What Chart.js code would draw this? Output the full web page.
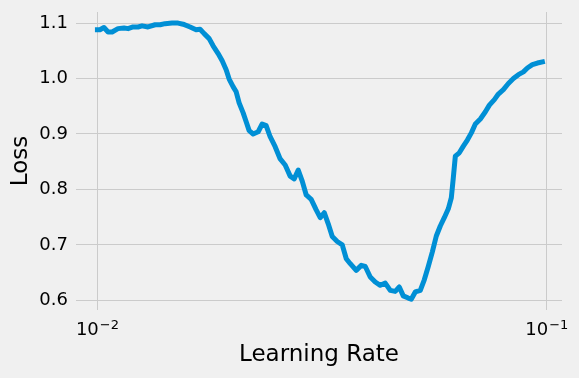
<!DOCTYPE html>
<html>
<head>
<meta charset="utf-8">
<script src="https://cdn.jsdelivr.net/npm/chart.js@4.4.1/dist/chart.umd.min.js"></script>
<style>
  body { margin: 0; background: #f0f0f0; }
  #wrap { width: 579px; height: 378px; }
</style>
</head>
<body>
<div id="wrap"><canvas id="grafico" width="579" height="378"></canvas></div>
<script>
// learning rate (x) and smoothed loss (y)
const learningRates = [
  0.0100, 0.01013, 0.01034, 0.01056, 0.01078, 0.01111, 0.01146, 0.01170, 0.01200, 0.01231,
  0.01257, 0.01296, 0.01344, 0.01379, 0.01414, 0.01466, 0.01512, 0.01551, 0.01608, 0.01658,
  0.01692, 0.01728, 0.01773, 0.01809, 0.01856, 0.01895, 0.01934, 0.01964, 0.02005, 0.02036,
  0.02067, 0.02110, 0.02143, 0.02176, 0.02221, 0.02279, 0.02326, 0.02374, 0.02423, 0.02486,
  0.02551, 0.02617, 0.02685, 0.02741, 0.02798, 0.02856, 0.02915, 0.02990, 0.03068, 0.03132,
  0.03197, 0.03263, 0.03331, 0.03417, 0.03506, 0.03579, 0.03653, 0.03766, 0.03865, 0.03945,
  0.04047, 0.04152, 0.04260, 0.04370, 0.04484, 0.04600, 0.04696, 0.04793, 0.04918, 0.04993,
  0.05097, 0.05230, 0.05338, 0.05448, 0.05561, 0.05677, 0.05794, 0.05914, 0.06037, 0.06131,
  0.06194, 0.06258, 0.06387, 0.06521, 0.06656, 0.06794, 0.06934, 0.07114, 0.07300, 0.07451,
  0.07644, 0.07802, 0.08005, 0.08213, 0.08426, 0.08646, 0.08870, 0.09053, 0.09287, 0.09530,
  0.09777
];
const losses = [
  1.088, 1.088, 1.092, 1.084, 1.084, 1.090, 1.091, 1.090, 1.093, 1.093,
  1.095, 1.093, 1.097, 1.097, 1.099, 1.100, 1.100, 1.098, 1.093, 1.088,
  1.089, 1.081, 1.072, 1.059, 1.045, 1.032, 1.016, 0.999, 0.985, 0.976,
  0.956, 0.938, 0.922, 0.906, 0.900, 0.904, 0.918, 0.915, 0.895, 0.877,
  0.855, 0.844, 0.824, 0.819, 0.835, 0.815, 0.790, 0.782, 0.763, 0.749,
  0.758, 0.738, 0.715, 0.706, 0.700, 0.675, 0.666, 0.654, 0.663, 0.661,
  0.642, 0.633, 0.627, 0.631, 0.618, 0.616, 0.624, 0.608, 0.604, 0.602,
  0.615, 0.618, 0.637, 0.661, 0.687, 0.716, 0.734, 0.749, 0.765, 0.785,
  0.821, 0.860, 0.866, 0.878, 0.889, 0.902, 0.918, 0.927, 0.940, 0.952,
  0.962, 0.972, 0.980, 0.991, 1.000, 1.007, 1.012, 1.019, 1.025, 1.028,
  1.030
];
const xTicks = [0.01, 0.1];
const xTickLabels = [['10', '\u22122'], ['10', '\u22121']];
const yTicks = [0.6, 0.7, 0.8, 0.9, 1.0, 1.1];

const FONTE = '"DejaVu Sans", sans-serif';
const COR_GRADE = '#cbcbcb';

const pontos = learningRates.map((lr, i) => ({ x: lr, y: losses[i] }));

// fundo cinza estilo fivethirtyeight
const fundo = {
  id: 'fundo',
  beforeDraw(chart) {
    const ctx = chart.ctx;
    ctx.save();
    ctx.fillStyle = '#f0f0f0';
    ctx.fillRect(0, 0, chart.width, chart.height);
    ctx.restore();
  }
};

// rotulos 10^-2 / 10^-1 com expoente
const rotulosLog = {
  id: 'rotulosLog',
  afterDraw(chart) {
    const ctx = chart.ctx;
    const escala = chart.scales.x;
    ctx.save();
    ctx.fillStyle = '#000';
    ctx.textBaseline = 'alphabetic';
    ctx.textAlign = 'left';
    xTicks.forEach((v, i) => {
      const px = escala.getPixelForValue(v);
      const [base, exp] = xTickLabels[i];
      ctx.font = '18px ' + FONTE;
      const w1 = ctx.measureText(base).width;
      ctx.font = '13px ' + FONTE;
      const w2 = ctx.measureText(exp).width;
      const x0 = px - (w1 + w2 + 1) / 2;
      ctx.font = '18px ' + FONTE;
      ctx.fillText(base, x0, 335);
      ctx.font = '13px ' + FONTE;
      ctx.fillText(exp, x0 + w1 + 1, 329);
    });
    ctx.restore();
  }
};

new Chart(document.getElementById('grafico'), {
  type: 'line',
  data: {
    datasets: [{
      data: pontos,
      borderColor: '#008fd5',
      borderWidth: 5,
      pointRadius: 0,
      borderJoinStyle: 'round',
      borderCapStyle: 'square',
      tension: 0
    }]
  },
  options: {
    responsive: false,
    animation: false,
    devicePixelRatio: 1,
    layout: { padding: { left: 0, right: 17, top: 12, bottom: 0 } },
    plugins: { legend: { display: false }, tooltip: { enabled: false } },
    scales: {
      x: {
        type: 'logarithmic',
        min: 0.00896,
        max: 0.1081,
        border: { display: false },
        grid: { color: COR_GRADE, lineWidth: 1, drawTicks: false },
        afterBuildTicks: (s) => { s.ticks = xTicks.map(v => ({ value: v })); },
        afterFit: (s) => { s.height = 68; s.paddingLeft = 0; s.paddingRight = 0; },
        ticks: { display: false },
        title: {
          display: true,
          text: 'Learning Rate',
          color: '#000',
          font: { family: FONTE, size: 23 },
          padding: { top: 31.5, bottom: 8.9 }
        }
      },
      y: {
        type: 'linear',
        min: 0.5825,
        max: 1.12,
        border: { display: false },
        grid: { color: COR_GRADE, lineWidth: 1, drawTicks: false },
        afterBuildTicks: (s) => { s.ticks = yTicks.map(v => ({ value: v })); },
        afterFit: (s) => { s.width = 76; s.paddingTop = 0; s.paddingBottom = 0; },
        ticks: {
          color: '#000',
          padding: 8,
          font: { family: FONTE, size: 18 },
          callback: (v) => v.toFixed(1)
        },
        title: {
          display: true,
          text: 'Loss',
          color: '#000',
          font: { family: FONTE, size: 23 },
          padding: { top: 7.5, bottom: 4.3 }
        }
      }
    }
  },
  plugins: [fundo, rotulosLog]
});
</script>
</body>
</html>
